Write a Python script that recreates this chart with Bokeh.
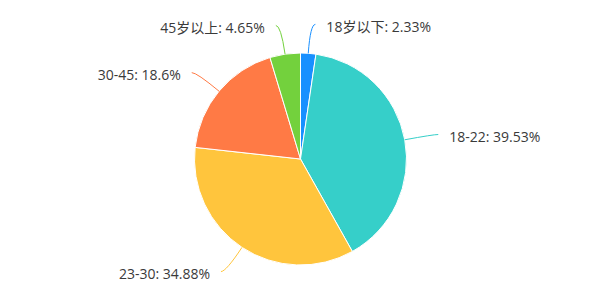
import math
from bokeh.plotting import figure
from bokeh.models import Range1d, ColumnDataSource
from bokeh.core.properties import value
from bokeh.embed import file_html
from bokeh.resources import INLINE

categories = ["18岁以下", "18-22", "23-30", "30-45", "45岁以上"]
percents = [2.33, 39.53, 34.88, 18.6, 4.65]
colors = ["#1890ff", "#36cfc9", "#ffc53d", "#ff7a45", "#73d13d"]

W, H = 600, 300
cx, cy, R = 300, 141.5, 106
L1, L2, GAP = 29, 5, 11

p = figure(width=W, height=H, output_backend="svg", toolbar_location=None,
           x_range=Range1d(0, W), y_range=Range1d(0, H),
           min_border=0, outline_line_color=None)
p.axis.visible = False
p.grid.visible = False
p.background_fill_color = "white"

total = sum(percents)
starts, ends, mids = [], [], []
acc = 0.0
for v in percents:
    a0 = acc / total * 2 * math.pi
    acc += v
    a1 = acc / total * 2 * math.pi
    starts.append(math.pi / 2 - a0)
    ends.append(math.pi / 2 - a1)
    mids.append((a0 + a1) / 2)

src = ColumnDataSource(dict(start=starts, end=ends, color=colors))
p.wedge(x=cx, y=cy, radius=R, start_angle="start", end_angle="end",
        direction="clock", fill_color="color", line_color="white",
        line_width=1, source=src)

x0s, y0s, x1s, y1s, cxs, cys, tx, ty, aligns, labels = [], [], [], [], [], [], [], [], [], []
for name, v, t in zip(categories, percents, mids):
    sx, sy = math.sin(t), math.cos(t)
    ex, ey = cx + R * sx, cy + R * sy
    kx, ky = cx + (R + L1) * sx, cy + (R + L1) * sy
    side = 1 if sx >= 0 else -1
    fx, fy = kx + side * L2, ky
    x0s.append(ex); y0s.append(ey); x1s.append(fx); y1s.append(fy)
    cxs.append(kx); cys.append(ky)
    tx.append(fx + side * GAP); ty.append(fy - 2)
    aligns.append("left" if side > 0 else "right")
    labels.append(f"{name}: {v}%")

p.quadratic(x0=x0s, y0=y0s, x1=x1s, y1=y1s, cx=cxs, cy=cys,
            line_color=colors, line_width=1)

tsrc = ColumnDataSource(dict(x=tx, y=ty, text=labels, align=aligns))
p.text(x="x", y="y", text="text", text_align="align", text_baseline="middle",
       text_font=value("'Open Sans', 'Noto Sans CJK SC'"), text_font_size="14px",
       text_color="#3a3a3a", source=tsrc)

open("out.html", "w").write(file_html(p, INLINE))
